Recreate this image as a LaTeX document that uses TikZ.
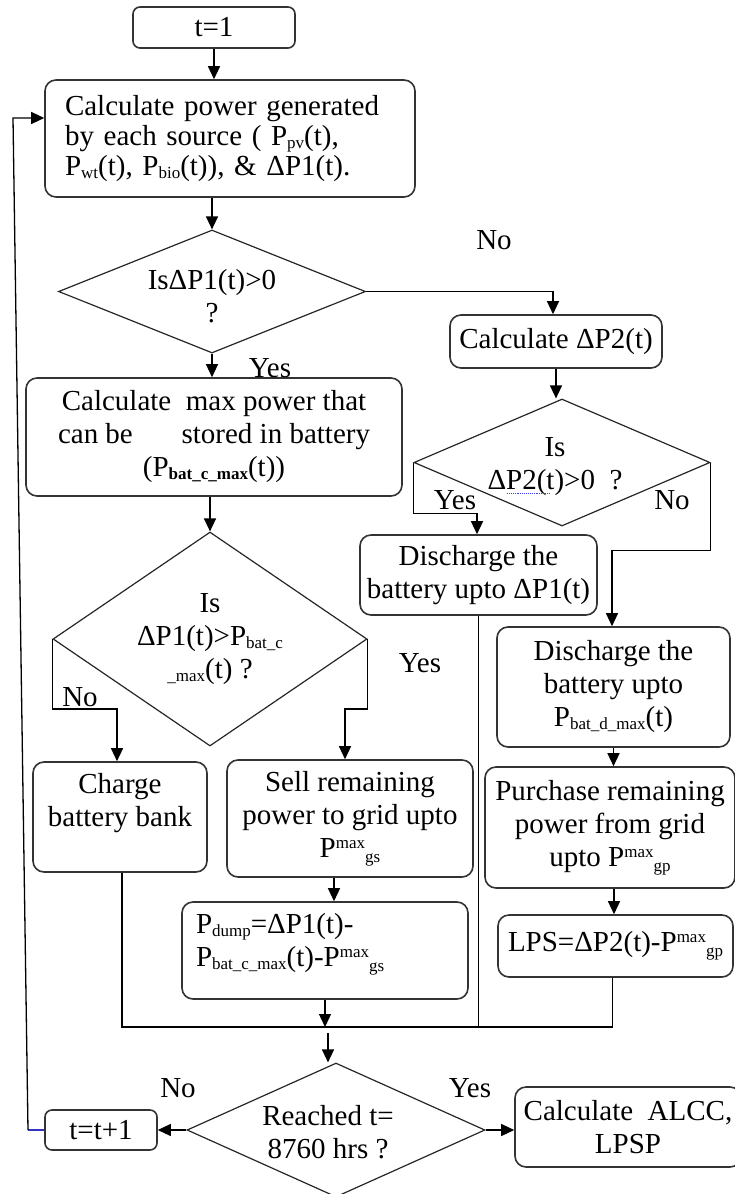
\documentclass[tikz,border=0pt]{standalone}
\usepackage{fontspec}
\setmainfont{Liberation Serif}
\usetikzlibrary{shapes.geometric,arrows.meta}
\newcommand\fs{\fontsize{29}{33}\selectfont}
\newcommand\sub[1]{\raisebox{-3pt}{\fontsize{17}{17}\selectfont #1}}
\newcommand\lo[1]{\raisebox{-5pt}{\fontsize{17}{17}\selectfont #1}}
\newcommand\hi[1]{\raisebox{9pt}{\fontsize{17}{17}\selectfont #1}}
\newcommand\lift[1]{\rule[-#1]{0pt}{#1}}
\begin{document}
\begin{tikzpicture}[x=1pt,y=-1pt,
  box/.style={draw=black!80, line width=1.6pt, rounded corners=11pt, align=center, font=\fs, inner sep=0pt},
  dia/.style={diamond, draw=black!85, line width=1.2pt, inner sep=0pt},
  arr/.style={-{Triangle[length=13pt,width=12pt]}, line width=1.3pt},
  ln/.style={line width=1.3pt},
  lbl/.style={font=\fs, inner sep=0pt, align=center}]
\useasboundingbox (0,0) rectangle (734,1194);

% ---- process boxes ----
\node[box, rounded corners=7pt, minimum width=162pt, minimum height=41pt] (t1) at (214,27.5) {t=1};
\node[box, minimum width=370pt, minimum height=117pt, text width=330pt, align=left,
      font=\fontsize{29}{30}\selectfont] (calc) at (230,138.5)
  {Calculate power generated\\by each source ( P\sub{pv}(t),\\P\sub{wt}(t), P\sub{bio}(t)), \& ΔP1(t).};
\node[box, minimum width=212pt, minimum height=53pt] (dp2) at (556,341.5) {Calculate ΔP2(t)};
\node[box, minimum width=376pt, minimum height=118pt] (cmax) at (214,437)
  {Calculate\ \ max power that\\\hbox to 312pt{can be\hfill stored in battery}\\(P\sub{\bfseries bat\_c\_max}(t))};
\node[box, minimum width=174pt, minimum height=110pt] (charge) at (120,817)
  {Charge\\battery bank\lift{34pt}};
\node[box, minimum width=246pt, minimum height=117pt] (sell) at (350,818.5)
  {Sell remaining\\power to grid upto\\P\hi{max}\lo{gs}};
\node[box, minimum width=286pt, minimum height=97pt, text width=258pt, align=left] (pdump) at (325,950.5)
  {P\sub{dump}=ΔP1(t)-\\P\sub{bat\_c\_max}(t)-P\hi{max}\lo{gs}\lift{22pt}};
\node[box, minimum width=237pt, minimum height=80pt] (dis1) at (478.5,575)
  {Discharge the\\battery upto ΔP1(t)};
\node[box, minimum width=233pt, minimum height=120pt] (dis2) at (613.5,687)
  {Discharge the\\battery upto\\P\sub{bat\_d\_max}(t)};
\node[box, minimum width=250pt, minimum height=121pt] (purch) at (610,827.5)
  {Purchase remaining\\power from grid\\upto P\hi{max}\lo{gp}};
\node[box, minimum width=235pt, minimum height=62pt] (lps) at (615.5,946)
  {\makebox[215pt][l]{LPS=ΔP2(t)-P\hi{max}\lo{gp}}};
\node[box, rounded corners=7pt, minimum width=112pt, minimum height=40pt] (tinc) at (101,1130) {t=t+1};
\node[box, minimum width=226pt, minimum height=80pt] (alcc) at (628,1127) {Calculate\ \ ALCC,\\LPSP};

% ---- decisions ----
\node[dia, minimum width=307pt, minimum height=123pt,
      label={[lbl, yshift=-5pt]center:{IsΔP1(t)>0\\?}}] (d1) at (212,291.5) {};
\node[dia, minimum width=314pt, minimum height=214pt,
      label={[lbl]center:{Is\\ΔP1(t)>P\sub{bat\_c}\\\sub{\_max}(t) ?}}] (d2) at (210,639) {};
\node[dia, minimum width=296pt, minimum height=127pt,
      label={[lbl, xshift=-7pt, yshift=-4pt]center:{Is\\ΔP2(t)>0\ \ ?}}] (d3) at (562,462.5) {};
\node[dia, minimum width=298pt, minimum height=134pt,
      label={[lbl, xshift=-8pt, yshift=-2pt]center:{Reached t=\\8760 hrs ?}}] (d4) at (336,1130) {};

% ---- branch labels ----
\node[lbl] (no1) at (494,240) {No};
\node[lbl] (yes1) at (270,368) {Yes};
\node[lbl] (yes3) at (455,500) {Yes};
\node[lbl] (no3) at (672,500) {No};
\node[lbl] (no2) at (80,697) {No};
\node[lbl] (yes2) at (420,663) {Yes};
\node[lbl] (no4) at (178,1088) {No};
\node[lbl] (yes4) at (470,1088) {Yes};

% spell-check mark under the second decision text
\coordinate (sq1) at (507,493);
\coordinate (sq2) at (549,493);
\draw[blue!75, line width=0.9pt, densely dotted] (sq1) -- (sq2);

% ---- entry points shifted off the box centres ----
\coordinate (dp2in) at ([xshift=-3pt]dp2.north);
\coordinate (chin) at ([xshift=-3pt]charge.north);
\coordinate (sellin) at ([xshift=-5pt]sell.north);
\coordinate (sellout) at ([xshift=-16pt]sell.south);
\coordinate (dis1in) at ([xshift=-1.5pt]dis1.north);
\coordinate (dis2in) at ([xshift=-1.5pt]dis2.north);
\coordinate (purout) at ([xshift=4pt]purch.south);
\coordinate (chout) at ([xshift=2pt]charge.south);
\coordinate (lpsout) at ([xshift=-3pt]lps.south);

% ---- connectors ----
\draw[arr] (t1.south) -- (t1.south |- calc.north);
\draw[arr] (calc.south -| d1.north) -- (d1.north);
\draw[arr] (d1.east) -- (d1.east -| dp2in) -- (dp2in);
\draw[arr] (d1.south) -- (d1.south |- cmax.north);
\draw[arr] (cmax.south -| d2.north) -- (d2.north);
\draw[arr] (d2.west) -- ++(0,70) -| (chin);
\draw[arr] (d2.east) -- ++(0,70) -| (sellin);
\draw[arr] (sellout) -- (sellout |- pdump.north);

\draw[arr] (dp2.south) -- (dp2.south |- d3.north);
\draw[arr] (d3.west) -- ++(0,51) -| (dis1in);
\draw[arr] (d3.east) -- ++(0,88) -| (dis2in);
\draw[arr] (dis2.south) -- (dis2.south |- purch.north);
\draw[arr] (purout) -- (purout |- lps.north);

% merge of all branches
\coordinate (m) at (326,1027);
\coordinate (m2) at (328,1033);
\draw[ln] (chout) -- (chout |- m) -- (lpsout |- m) -- (lpsout);
\draw[ln] (dis1.south) -- (dis1.south |- m);
\draw[arr] (pdump.south) -- (pdump.south |- m);
\draw[arr] (m2) -- (m2 |- d4.north);

\draw[arr] (d4.west) -- (tinc.east);
\draw[arr] (d4.east) -- (d4.east -| alcc.west);

% loop back to the start
\coordinate (lp1) at (28,1130);
\coordinate (lp2) at (13,118);
\draw[line width=1.1pt, draw=blue!70!black!80] (tinc.west) -- (lp1);
\draw[arr] (lp1) -- (lp2) -- (lp2 -| calc.west);
\end{tikzpicture}
\end{document}
